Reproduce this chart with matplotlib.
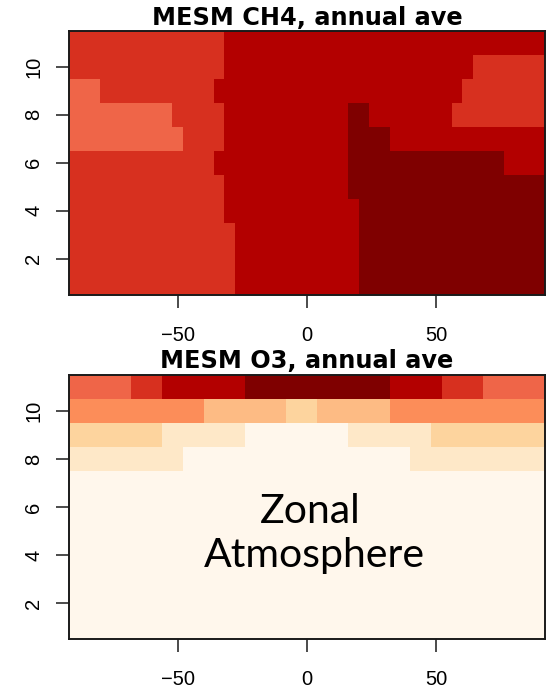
import numpy as np
import matplotlib
matplotlib.use("Agg")
import matplotlib.pyplot as plt
from matplotlib.colors import ListedColormap, BoundaryNorm

# ---- data ----
latitudes = [-90, -86, -82, -78, -74, -70, -66, -62, -58, -54, -50, -46, -42, -38,
             -34, -30, -26, -22, -18, -14, -10, -6, -2, 2, 6, 10, 14, 18, 22, 26,
             30, 34, 38, 42, 46, 50, 54, 58, 62, 66, 70, 74, 78, 82, 86, 90]
levels = [1, 2, 3, 4, 5, 6, 7, 8, 9, 10, 11]

# colour classes (0..8) of each cell, as run lengths along latitude,
# listed from the top level (11) down to level 1
ch4_runs = [
    [(6, 15), (7, 31)],
    [(6, 15), (7, 24), (6, 7)],
    [(5, 3), (6, 11), (7, 24), (6, 8)],
    [(5, 10), (6, 5), (7, 12), (8, 2), (7, 8), (6, 9)],
    [(5, 11), (6, 4), (7, 12), (8, 4), (7, 15)],
    [(6, 14), (7, 13), (8, 15), (7, 4)],
    [(6, 15), (7, 12), (8, 19)],
    [(6, 15), (7, 13), (8, 18)],
    [(6, 16), (7, 12), (8, 18)],
    [(6, 16), (7, 12), (8, 18)],
    [(6, 16), (7, 12), (8, 18)],
]
o3_runs = [
    [(5, 6), (6, 3), (7, 8), (8, 14), (7, 5), (6, 4), (5, 6)],
    [(4, 13), (3, 8), (2, 3), (3, 7), (4, 15)],
    [(2, 9), (1, 8), (0, 10), (1, 8), (2, 11)],
    [(1, 11), (0, 22), (1, 13)],
    [(0, 46)],
    [(0, 46)],
    [(0, 46)],
    [(0, 46)],
    [(0, 46)],
    [(0, 46)],
    [(0, 46)],
]
titles = ["MESM CH4, annual ave", "MESM O3, annual ave"]
xticks = [-50, 0, 50]
xticklabels = ["\u221250", "0", "50"]
yticks = [2, 4, 6, 8, 10]
annotation_lines = ["Zonal", "Atmosphere"]

palette = ["#FFF7EC", "#FEE8C8", "#FDD49E", "#FDBB84", "#FC8D59",
           "#EF6548", "#D7301F", "#B30000", "#7F0000"]


def runs_to_grid(runs):
    rows = []
    for r in runs:
        row = np.repeat([c for c, n in r], [n for c, n in r])
        assert len(row) == len(latitudes)
        rows.append(row)
    return np.array(rows[::-1])  # row 0 -> level 1


cmap = ListedColormap(palette)
norm = BoundaryNorm(np.arange(-0.5, len(palette) + 0.5, 1), cmap.N)

W, H = 548, 691
fig = plt.figure(figsize=(W / 100, H / 100), dpi=100)

panels = [  # left, right, top, bottom in pixels
    (69, 545, 31, 294.5),
    (69, 545, 375, 639),
]
title_baselines = [25, 368]

for (l, r, t, b), runs, title, tb in zip(panels, [ch4_runs, o3_runs], titles, title_baselines):
    ax = fig.add_axes([l / W, 1 - b / H, (r - l) / W, (b - t) / H])
    grid = runs_to_grid(runs)
    ax.pcolormesh(latitudes, levels, grid, cmap=cmap, norm=norm,
                  shading="nearest", antialiased=False, edgecolors="none")
    ax.set_xlim(-92, 92)
    ax.set_ylim(0.5, 11.5)
    for s in ax.spines.values():
        s.set_linewidth(1.4)
        s.set_color("#1a1a1a")
    ax.set_xticks(xticks)
    ax.set_xticklabels(xticklabels, family="Liberation Sans", fontsize=14.5)
    ax.set_yticks(yticks)
    ax.set_yticklabels([str(v) for v in yticks], family="Liberation Sans",
                       fontsize=14.5, rotation=90, va="center")
    ax.tick_params(axis="both", length=9.5, width=1.1, color="#1a1a1a")
    ax.tick_params(axis="x", pad=13)
    ax.tick_params(axis="y", pad=9)
    fig.text((l + r) / 2 / W, 1 - tb / H, title, ha="center", va="baseline",
             fontsize=17.3, fontweight="bold", family="DejaVu Sans")

# annotation in lower panel
fig.text(310 / W, 1 - 523 / H, annotation_lines[0], ha="center", va="baseline",
         fontsize=29.5, family="Lato", color="black")
fig.text(314.5 / W, 1 - 567 / H, annotation_lines[1], ha="center", va="baseline",
         fontsize=29.5, family="Lato", color="black")

fig.savefig("out.png", dpi=100, facecolor="white")
